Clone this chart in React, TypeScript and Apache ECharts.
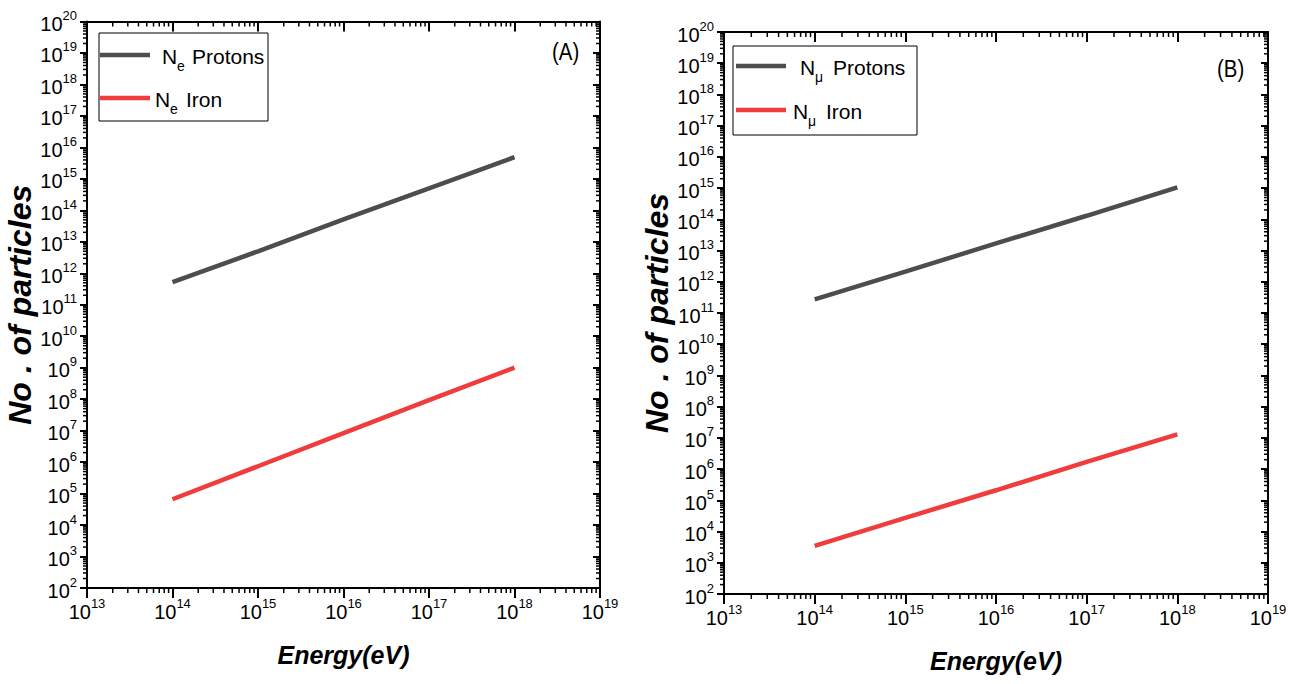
import React, { useEffect, useRef } from "react";
import * as echarts from "echarts";

// ---- data ----
const energyA = [1e14, 1e15, 1e16, 1e17, 1e18];
const neProtons = [5.2e11, 5.0e12, 5.2e13, 5.0e14, 4.9e15];
const neIron = [6.6e4, 7.4e5, 8.3e6, 9.3e7, 1.0e9];

const energyB = [1e14, 1e15, 1e16, 1e17, 1e18];
const nmuProtons = [2.75e11, 2.1e12, 1.7e13, 1.3e14, 1.05e15];
const nmuIron = [3.5e3, 2.75e4, 2.1e5, 1.7e6, 1.3e7];

const xRange = [1e13, 1e19];
const yRange = [1e2, 1e20];
const xTitle = "Energy(eV)";
const yTitle = "No . of particles";
const panelLabels = ["(A)", "(B)"];
const seriesNames = ["Ne Protons", "Ne Iron", "Nμ Protons", "Nμ Iron"];
const legendParts = [
  ["N", "e", "Protons"],
  ["N", "e", "Iron"],
  ["N", "μ", "Protons"],
  ["N", "μ", "Iron"],
];

const SANS = "'Liberation Sans', Arial, sans-serif";
const GRAY = "#4d4d4d";
const RED = "#f03c3c";

// minor tick positions of a log axis (2..9 × each decade)
function minorTicks(lo: number, hi: number) {
  const out: number[] = [];
  for (let v = lo; v < hi * 0.999; v *= 10) for (let m = 2; m <= 9; m++) out.push(v * m);
  return out;
}

const powLabel = (v: number) => `{b|10}{s|${Math.round(Math.log10(v))}}`;
const tickRich = {
  b: { fontSize: 20, fontFamily: SANS, color: "#000", verticalAlign: "bottom", padding: [5, 0, 0, 0] },
  s: { fontSize: 13, fontFamily: SANS, color: "#000", verticalAlign: "top" },
};

function axesFor(g: number, yNameGap: number) {
  const xAxes = [
    {
      type: "log", gridIndex: g, position: "bottom", min: xRange[0], max: xRange[1], interval: 1, logBase: 10,
      minorTick: { show: false }, splitLine: { show: false },
      axisLine: { onZero: false, lineStyle: { color: "#000", width: 2 } },
      axisTick: { show: true, length: 10, lineStyle: { color: "#000", width: 2 } },
      axisLabel: { margin: 9, formatter: powLabel, rich: tickRich },
      name: xTitle, nameLocation: "middle", nameGap: 54,
      nameTextStyle: { fontFamily: SANS, fontSize: 25, fontWeight: "bold", fontStyle: "italic", color: "#000" },
    },
    {
      type: "log", gridIndex: g, position: "top", min: xRange[0], max: xRange[1], interval: 1, splitLine: { show: false },
      axisLine: { onZero: false, lineStyle: { color: "#000", width: 2 } },
      axisTick: { show: true, inside: true, length: 10, lineStyle: { color: "#000", width: 2 } },
      axisLabel: { show: false },
    },
  ];
  const yAxes = [
    {
      type: "log", gridIndex: g, position: "left", min: yRange[0], max: yRange[1], interval: 1, logBase: 10,
      minorTick: { show: false }, splitLine: { show: false },
      axisLine: { show: true, onZero: false, lineStyle: { color: "#000", width: 2 } },
      axisTick: { show: true, length: 7, lineStyle: { color: "#000", width: 2 } },
      axisLabel: { margin: 10, formatter: powLabel, rich: tickRich },
      name: yTitle, nameLocation: "middle", nameGap: yNameGap, nameRotate: 90,
      nameTextStyle: { fontFamily: SANS, fontSize: 32, fontWeight: "bold", fontStyle: "italic", color: "#000" },
    },
    {
      type: "log", gridIndex: g, position: "right", min: yRange[0], max: yRange[1], interval: 1, splitLine: { show: false },
      axisLine: { show: true, onZero: false, lineStyle: { color: "#000", width: 2 } },
      axisTick: { show: true, inside: true, length: 7, lineStyle: { color: "#000", width: 2 } },
      axisLabel: { show: false },
    },
  ];
  return { xAxes, yAxes };
}

function lineSeries(name: string, xs: number[], ys: number[], color: string, axisIdx: number) {
  return {
    name, type: "line", xAxisIndex: axisIdx, yAxisIndex: axisIdx, symbol: "none",
    data: xs.map((x, i) => [x, ys[i]]),
    lineStyle: { color, width: 4.5 }, itemStyle: { color },
  };
}

// minor ticks drawn at positions given by the axes' own log scales
function xMinorSeries(axisIdx: number) {
  return {
    type: "custom", xAxisIndex: axisIdx, yAxisIndex: axisIdx, silent: true, clip: false,
    data: minorTicks(xRange[0], xRange[1]).map((v) => [v, yRange[0]]),
    renderItem: (params: any, api: any) => {
      const cs = params.coordSys;
      const x = api.coord([api.value(0), api.value(1)])[0];
      const b = cs.y + cs.height;
      return {
        type: "group",
        children: [
          { type: "line", shape: { x1: x, y1: b, x2: x, y2: b + 5 }, style: { stroke: "#000", lineWidth: 1.5 } },
          { type: "line", shape: { x1: x, y1: cs.y, x2: x, y2: cs.y + 5 }, style: { stroke: "#000", lineWidth: 1.5 } },
        ],
      };
    },
  };
}
function yMinorSeries(axisIdx: number) {
  return {
    type: "custom", xAxisIndex: axisIdx, yAxisIndex: axisIdx, silent: true, clip: false,
    data: minorTicks(yRange[0], yRange[1]).map((v) => [xRange[0], v]),
    renderItem: (params: any, api: any) => {
      const cs = params.coordSys;
      const y = api.coord([api.value(0), api.value(1)])[1];
      const r = cs.x + cs.width;
      return {
        type: "group",
        children: [
          { type: "line", shape: { x1: cs.x - 4, y1: y, x2: cs.x, y2: y }, style: { stroke: "#000", lineWidth: 1.5 } },
          { type: "line", shape: { x1: r - 4, y1: y, x2: r, y2: y }, style: { stroke: "#000", lineWidth: 1.5 } },
        ],
      };
    },
  };
}

// legend box drawn with graphic elements (subscripted labels)
function legendGraphic(
  box: { x: number; y: number; w: number; h: number },
  rows: { y: number; lineX: number; nX: number; subX: number; restX: number; color: string; parts: string[] }[]
) {
  const els: any[] = [
    { type: "rect", shape: { x: box.x, y: box.y, width: box.w, height: box.h }, style: { fill: "#fff", stroke: "#000", lineWidth: 1 }, z: 10 },
  ];
  rows.forEach((r) => {
    els.push({ type: "line", shape: { x1: r.lineX, y1: r.y, x2: r.lineX + 50, y2: r.y }, style: { stroke: r.color, lineWidth: 4.5 }, z: 11 });
    els.push({ type: "text", x: r.nX, y: r.y + 1, z: 11, style: { text: r.parts[0], font: `21px ${SANS}`, fill: "#000", verticalAlign: "middle" } });
    els.push({ type: "text", x: r.subX, y: r.y + 11, z: 11, style: { text: r.parts[1], font: `14px ${SANS}`, fill: "#000", verticalAlign: "middle" } });
    els.push({ type: "text", x: r.restX, y: r.y + 1, z: 11, style: { text: r.parts[2], font: `21px ${SANS}`, fill: "#000", verticalAlign: "middle" } });
  });
  return els;
}

export default function App() {
  const ref = useRef<HTMLDivElement>(null);
  useEffect(() => {
    if (!ref.current) return;
    const chart = echarts.init(ref.current, null, { renderer: "svg" });
    const a = axesFor(0, 37);
    const b = axesFor(1, 44);
    chart.setOption({
      animation: false,
      backgroundColor: "#fff",
      grid: [
        { left: 87, top: 21.5, width: 513, height: 566.5, containLabel: false, outerBoundsMode: "none" },
        { left: 724, top: 32, width: 544, height: 562, containLabel: false, outerBoundsMode: "none" },
      ],
      xAxis: [...a.xAxes, ...b.xAxes],
      yAxis: [...a.yAxes, ...b.yAxes],
      graphic: [
        ...legendGraphic({ x: 99, y: 33, w: 169, h: 88 }, [
          { y: 55, lineX: 100, nX: 162, subX: 177, restX: 192, color: GRAY, parts: legendParts[0] },
          { y: 98, lineX: 100, nX: 155, subX: 170, restX: 186, color: RED, parts: legendParts[1] },
        ]),
        ...legendGraphic({ x: 733, y: 46, w: 184, h: 89 }, [
          { y: 66, lineX: 736, nX: 800, subX: 815, restX: 833, color: GRAY, parts: legendParts[2] },
          { y: 110, lineX: 736, nX: 793, subX: 808, restX: 826, color: RED, parts: legendParts[3] },
        ]),
        { type: "text", x: 552, y: 40, scaleX: 0.85, style: { text: panelLabels[0], font: `24px ${SANS}`, fill: "#000" } },
        { type: "text", x: 1217, y: 57, scaleX: 0.85, style: { text: panelLabels[1], font: `24px ${SANS}`, fill: "#000" } },
      ],
      series: [
        lineSeries(seriesNames[0], energyA, neProtons, GRAY, 0),
        lineSeries(seriesNames[1], energyA, neIron, RED, 0),
        lineSeries(seriesNames[2], energyB, nmuProtons, GRAY, 2),
        lineSeries(seriesNames[3], energyB, nmuIron, RED, 2),
        xMinorSeries(0),
        yMinorSeries(0),
        xMinorSeries(2),
        yMinorSeries(2),
      ],
    });
    return () => chart.dispose();
  }, []);
  return <div ref={ref} style={{ position: "fixed", left: 0, top: 0, width: 1293, height: 684 }} />;
}
